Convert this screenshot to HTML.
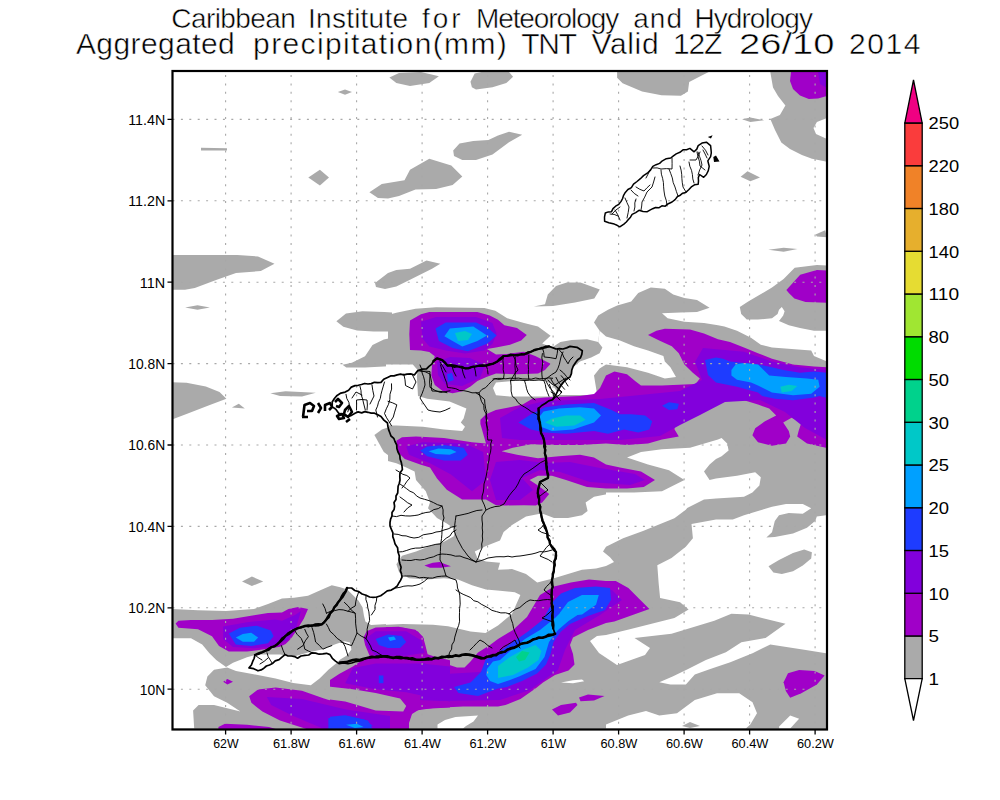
<!DOCTYPE html><html><head><meta charset="utf-8"><style>html,body{margin:0;padding:0;background:#fff;}svg{display:block;}text{font-family:"Liberation Sans",sans-serif;fill:#000;}</style></head><body>
<svg width="1000" height="800" viewBox="0 0 1000 800">
<rect width="1000" height="800" fill="#fff"/>
<g shape-rendering="auto">
<polygon fill="#aaaaaa" points="337.8,92.0 345.0,89.5 352.0,92.0 345.0,94.7"/>
<polygon fill="#aaaaaa" points="201.0,147.8 227.0,148.2 227.0,150.6 201.0,150.4"/>
<polygon fill="#aaaaaa" points="308.3,177.5 319.9,169.8 329.0,177.5 319.9,185.4"/>
<polygon fill="#aaaaaa" points="369.4,192.3 381.8,184.0 404.5,180.2 410.0,169.8 429.3,158.8 451.3,165.6 462.3,176.6 452.6,184.9 436.1,189.0 415.5,189.6 399.0,195.9 388.0,198.6 378.0,198.0"/>
<polygon fill="#aaaaaa" points="172.0,255.0 237.4,255.0 258.0,256.4 274.5,263.8 260.8,271.0 236.0,273.0 216.8,279.8 194.8,288.0 185.0,289.8 172.0,289.8"/>
<polygon fill="#aaaaaa" points="375.0,283.0 388.0,272.9 396.3,270.1 410.0,268.8 426.5,260.5 440.3,263.8 432.0,268.8 410.0,279.8 396.3,286.6 385.0,289.0 376.0,287.0"/>
<polygon fill="#aaaaaa" points="389.4,77.6 399.0,73.0 421.0,72.0 438.9,76.3 429.3,83.1 410.0,85.9 396.3,83.1"/>
<polygon fill="#aaaaaa" points="470.5,81.8 474.6,73.5 481.5,72.0 509.0,72.0 513.1,76.8 506.3,83.1 492.5,87.3 476.0,89.5 471.9,87.3"/>
<polygon fill="#aaaaaa" points="453.2,150.5 459.5,143.6 473.3,140.9 488.4,140.0 498.0,135.4 509.0,131.8 522.2,134.8 509.0,142.3 492.5,154.6 476.0,160.1 462.3,160.1 454.0,156.0"/>
<polygon fill="#aaaaaa" points="533.8,306.6 545.0,304.2 547.8,294.4 556.0,286.0 566.8,282.5 580.5,282.5 599.8,289.5 594.3,298.4 575.0,302.5 553.0,306.0"/>
<polygon fill="#aaaaaa" points="617.1,72.0 708.7,72.0 700.3,76.3 689.2,81.9 687.9,91.6 680.9,95.7 661.5,95.2 642.1,91.6 622.6,83.3 617.1,77.7"/>
<polygon fill="#aaaaaa" points="770.3,72.0 827.0,72.0 827.0,118.0 816.9,122.1 813.5,128.0 816.0,134.0 827.0,139.0 827.0,161.8 812.0,158.8 801.9,154.9 790.0,149.0 781.3,142.5 775.0,130.0 770.3,119.1 779.9,115.0 785.4,105.4 778.0,96.0 773.0,87.5"/>
<polygon fill="#aaaaaa" points="742.0,119.3 750.3,117.4 764.2,120.2 750.3,122.1"/>
<polygon fill="#aaaaaa" points="740.6,176.8 747.5,171.2 760.0,177.6 750.3,181.2"/>
<polygon fill="#aaaaaa" points="815.5,234.5 825.2,230.3 827.0,237.3 816.9,236.4"/>
<polygon fill="#aaaaaa" points="768.3,249.7 783.6,247.8 797.5,248.9 783.6,251.7"/>
<polygon fill="#aaaaaa" points="739.8,307.0 748.2,301.4 758.0,295.8 772.0,287.4 783.6,278.9 794.7,267.8 816.9,265.0 827.0,265.6 827.0,330.8 814.0,330.8 800.0,328.0 788.8,325.2 779.0,321.0 783.2,315.4 784.6,311.2 781.8,307.0 779.0,309.8 777.6,314.0 772.0,318.2 758.0,319.6 746.8,319.6 741.2,314.0"/>
<polygon fill="#aaaaaa" points="185.1,307.5 197.5,305.3 209.9,307.5 197.5,309.7"/>
<polygon fill="#aaaaaa" points="172.0,382.3 186.5,382.8 205.8,386.4 219.5,391.9 226.4,398.8 208.5,405.6 186.5,413.9 172.0,419.4"/>
<polygon fill="#aaaaaa" points="231.9,407.6 238.8,403.7 244.8,408.4"/>
<polygon fill="#aaaaaa" points="270.4,393.3 285.5,391.3 315.8,392.7 302.0,396.6 280.0,396.0"/>
<polygon fill="#aaaaaa" points="336.4,321.2 346.0,313.5 362.5,311.3 384.5,312.1 392.0,312.5 392.0,331.4 373.5,331.4 357.0,330.6 343.3,326.7"/>
<polygon fill="#aaaaaa" points="342.5,364.7 351.9,362.8 365.0,356.3 372.5,345.0 383.8,339.4 393.1,337.5 402.5,330.0 420.0,330.0 420.0,363.8 402.5,365.6 383.8,366.6 365.0,367.5 346.3,367.5"/>
<polygon fill="#aaaaaa" points="374.4,435.0 381.9,429.4 392.0,426.0 392.0,458.0 383.8,451.9"/>
<polygon fill="#aaaaaa" points="388.0,314.9 396.3,312.8 415.5,308.7 436.1,307.3 484.3,308.0 495.3,310.8 507.2,318.2 524.0,323.1 538.0,326.6 550.6,335.7 542.2,343.4 552.0,347.6 560.4,342.0 571.6,339.9 587.0,339.2 598.2,342.0 599.6,330.8 594.0,322.4 598.2,315.4 608.0,309.8 617.2,305.6 631.2,301.4 638.2,293.0 650.8,287.4 664.8,288.8 673.2,294.4 684.4,297.9 697.0,300.0 709.6,307.7 697.0,311.9 680.2,312.6 662.0,313.3 667.6,318.2 684.4,321.7 704.0,323.1 718.0,325.2 724.4,326.6 737.0,330.8 751.0,337.8 760.8,344.8 772.0,347.6 791.6,349.0 811.2,350.4 814.0,356.0 827.0,361.6 827.0,729.0 388.0,729.0"/>
<polygon fill="#aaaaaa" points="172.0,608.9 198.0,610.3 226.0,611.0 254.0,608.9 268.0,604.0 282.0,598.4 294.0,597.8 308.0,595.7 319.2,590.8 331.8,585.2 340.2,587.3 347.2,589.4 358.4,600.6 362.6,607.6 364.0,616.0 365.4,621.6 371.0,625.1 392.0,623.7 392.0,729.0 172.0,729.0"/>
<polygon fill="#ffffff" points="599.6,330.8 606.0,336.4 620.0,340.6 634.0,346.2 648.0,350.4 663.4,356.0 664.8,361.6 670.4,367.2 676.0,377.0 664.8,378.4 648.0,372.8 627.0,367.2 606.0,364.4 599.6,368.6 594.0,375.6 596.8,392.4 596.0,395.0 554.8,395.0 557.6,392.4 563.2,384.0 570.2,375.6 573.0,367.2 580.0,361.6 591.2,357.4 599.6,353.2 602.4,347.6 598.2,342.0"/>
<polygon fill="#ffffff" points="493.0,388.0 496.0,382.6 510.0,381.2 542.2,379.8 552.0,384.0 557.6,392.4 554.8,396.6 510.0,396.6 496.0,395.2"/>
<polygon fill="#ffffff" points="386.0,364.4 412.8,364.4 417.6,369.9 416.9,376.8 418.0,396.0 427.2,398.8 449.6,401.6 466.4,408.6 463.6,418.4 460.8,422.6 465.0,426.8 462.2,431.0 444.0,429.6 423.0,426.8 396.4,425.4 386.0,425.4"/>
<polygon fill="#ffffff" points="386.0,460.4 396.4,463.2 406.2,467.4 414.6,471.6 416.0,480.0 425.8,491.2 430.0,502.4 428.0,508.2 437.0,518.0 446.8,523.6 455.2,529.2 453.8,536.2 444.0,541.8 430.0,546.0 416.0,551.6 402.0,555.8 396.4,564.2 399.2,572.6 409.0,578.2 427.2,579.6 444.0,578.2 458.0,579.6 472.0,585.2 486.0,589.4 500.0,590.8 514.8,592.2 520.4,595.0 512.0,614.0 507.0,618.0 498.0,625.5 485.5,633.0 470.5,631.5 448.0,626.2 433.0,624.7 403.0,624.0 386.0,624.7"/>
<polygon fill="#ffffff" points="474.8,551.6 486.0,546.0 500.0,540.4 503.6,532.0 512.0,525.0 526.0,516.6 540.0,513.8 542.8,513.8 554.0,518.0 568.0,518.0 582.0,515.2 587.6,511.0 585.6,502.4 594.0,496.8 608.0,494.0 610.0,508.0 687.2,508.0 685.8,509.7 674.4,518.2 643.0,531.1 623.1,538.2 606.0,546.7 603.0,551.6 610.0,557.2 614.0,562.0 606.0,566.0 596.0,568.4 582.0,569.8 554.0,578.2 537.2,582.4 526.0,574.0 512.0,569.1 498.0,569.8 500.0,562.8 486.0,561.4 477.6,558.6"/>
<polygon fill="#ffffff" points="627.0,457.6 641.0,452.0 662.0,449.2 690.0,447.8 718.0,439.4 721.6,438.0 727.2,443.6 728.6,450.6 721.6,456.2 716.0,459.0 709.6,464.6 704.0,471.6 709.6,480.0 716.0,478.6 737.0,475.8 755.2,472.3 760.8,477.2 759.4,485.6 752.4,492.6 744.0,496.8 716.0,498.4 704.0,499.6 687.2,508.0 606.0,508.0 606.0,492.6 634.0,492.6 662.0,491.2 684.4,480.0 669.0,470.2 648.0,464.6"/>
<polygon fill="#ffffff" points="691.5,524.0 716.0,519.4 732.8,519.4 744.0,515.2 758.0,511.0 772.0,506.8 786.0,504.0 802.8,504.0 811.2,508.2 802.8,513.8 788.8,513.1 779.0,515.2 774.8,521.0 772.0,532.2 766.4,537.6 774.8,537.0 793.0,533.4 807.0,527.8 815.4,520.8 816.8,516.6 826.0,515.2 826.0,653.3 805.8,650.0 770.3,644.4 752.5,653.3 730.3,662.2 710.3,668.9 694.8,674.4 685.9,684.4 670.4,684.4 659.3,682.2 672.6,676.6 688.1,668.9 705.9,660.0 725.9,652.2 741.4,642.2 765.6,637.9 785.5,623.7 748.5,614.6 731.4,613.7 714.3,620.8 671.5,633.7 634.5,637.9 650.0,648.0 645.0,655.0 617.0,665.0 599.0,653.0 590.0,641.0 597.0,636.0 606.0,635.1 628.8,629.4 651.6,623.7 674.4,618.0 688.6,609.4 680.1,602.3 660.1,598.0 658.7,583.8 657.3,565.3 671.5,558.1 685.8,546.7 692.9,538.2"/>
<polygon fill="#ffffff" points="606.0,724.4 628.2,715.5 646.0,711.0 659.3,715.5 677.0,713.3 694.8,700.0 717.0,693.3 739.2,693.3 752.5,702.2 757.0,713.3 750.3,724.4 745.8,728.5 606.0,728.5"/>
<polygon fill="#ffffff" points="779.1,726.6 790.2,715.5 799.1,718.8 790.2,728.5 779.1,728.5"/>
<polygon fill="#ffffff" points="437.5,724.5 445.0,720.0 455.5,717.0 478.0,715.5 473.5,721.5 466.0,726.0 463.0,728.5 437.5,728.5"/>
<polygon fill="#ffffff" points="561.0,682.5 573.0,680.2 582.0,679.5 584.2,681.3 573.0,683.2"/>
<polygon fill="#ffffff" points="172.0,638.3 191.0,638.3 202.2,644.6 209.2,653.0 216.2,660.0 226.0,667.0 233.0,662.8 247.0,657.2 256.8,654.4 280.0,654.4 294.0,656.6 308.0,652.4 322.0,649.6 336.0,644.0 344.4,641.2 350.0,642.6 351.4,649.6 347.2,655.2 340.2,659.4 336.0,663.6 328.4,669.8 319.6,678.6 310.8,685.2 293.2,683.0 275.6,678.6 253.6,674.2 236.0,670.9 227.2,667.6 214.0,669.8 207.4,676.4 205.2,685.2 214.0,696.2 227.2,702.8 240.4,711.6 214.0,705.0 198.6,705.0 193.1,710.5 194.2,728.5 172.0,728.5"/>
<polygon fill="#aaaaaa" points="682.0,726.0 690.0,722.0 700.0,726.0 690.0,728.0"/>
<polygon fill="#aaaaaa" points="768.5,566.3 779.0,560.0 793.0,553.0 804.2,549.5 811.9,552.3 811.2,558.6 802.8,565.6 793.0,571.2 781.8,574.0 773.4,572.6"/>
<polygon fill="#a000c8" points="791.0,72.0 827.0,72.0 827.0,96.0 818.0,98.5 808.8,99.0 800.0,95.5 793.0,89.0 790.0,81.0"/>
<polygon fill="#a000c8" points="786.4,290.0 800.2,274.7 816.9,270.0 827.0,270.6 827.0,302.8 805.6,302.1 794.4,298.6 788.8,293.0"/>
<polygon fill="#a000c8" points="410.0,320.4 421.0,314.2 429.3,312.1 477.4,312.1 489.8,315.6 498.0,319.7 504.4,325.2 517.0,328.0 526.8,335.0 521.2,340.6 510.0,344.8 496.0,347.6 487.0,349.0 496.0,354.6 507.2,353.9 524.0,351.8 535.2,356.0 550.6,363.7 545.0,370.0 538.0,373.5 517.0,374.2 496.0,373.5 487.0,376.8 477.4,380.9 470.5,386.4 462.3,391.2 452.6,393.3 443.0,391.2 434.8,385.0 431.3,375.4 432.0,365.8 434.8,356.2 429.3,352.0 421.0,350.6 410.0,350.0 409.3,334.1"/>
<polygon fill="#a000c8" points="396.4,440.8 402.0,437.3 416.0,436.6 444.0,438.0 472.0,442.2 486.0,443.6 480.4,424.0 480.4,419.8 486.0,414.2 495.8,410.0 510.0,407.2 522.6,404.4 532.4,398.8 545.0,397.4 580.0,396.0 594.0,394.0 600.0,388.0 606.0,375.6 614.4,371.4 627.0,374.2 635.4,381.2 641.0,385.4 662.0,385.4 695.6,384.0 699.8,378.4 692.8,372.8 684.4,364.4 678.8,353.2 671.8,346.2 659.2,340.6 648.0,335.0 656.4,330.8 664.8,328.7 690.0,329.4 704.0,333.6 718.0,339.2 730.0,342.0 744.0,347.6 758.0,353.2 772.0,358.8 793.0,364.4 814.0,366.5 827.0,367.2 827.0,448.0 807.0,443.6 797.2,436.6 798.6,431.0 801.4,422.6 791.6,417.7 783.2,422.6 788.8,431.0 790.2,436.6 786.0,443.6 772.0,445.7 758.0,442.2 752.4,435.2 755.2,428.2 765.0,421.2 776.2,415.6 769.2,408.6 758.0,404.4 744.0,400.2 716.0,401.6 704.0,410.0 690.0,417.0 674.6,421.2 674.6,429.6 678.8,436.6 662.0,439.4 648.0,443.6 627.0,445.0 606.0,443.6 580.0,445.0 552.0,445.0 531.0,444.3 512.8,447.8 501.6,451.3 517.0,454.8 538.0,458.3 559.0,456.2 580.0,454.8 594.0,457.6 606.0,464.6 620.0,467.4 641.0,471.6 655.0,480.0 643.8,487.0 627.0,488.4 606.0,488.4 587.0,487.0 566.0,480.0 552.0,475.8 538.0,475.8 529.6,480.0 538.0,485.6 549.2,494.0 542.2,502.4 535.8,505.4 524.0,505.2 506.4,505.4 496.0,505.2 486.0,499.6 462.2,499.6 446.8,489.8 437.0,478.6 430.0,467.4 420.2,464.6 404.8,459.0 397.8,452.0"/>
<polygon fill="#a000c8" points="424.4,565.6 432.8,562.8 439.8,562.1 445.4,564.2 451.0,566.3 441.2,567.7 430.0,567.7"/>
<polygon fill="#a000c8" points="386.0,627.0 403.0,627.7 418.0,631.5 424.0,639.0 424.0,652.5 430.0,657.0 442.0,660.0 448.0,664.5 457.0,667.5 464.5,667.5 470.5,661.5 478.0,652.5 490.0,645.0 498.0,639.0 513.0,630.0 527.0,617.0 540.0,595.0 554.0,586.6 570.8,582.4 589.0,579.6 606.0,581.0 615.8,581.0 628.4,588.0 639.6,599.2 649.4,609.0 634.0,614.6 614.4,621.6 606.0,623.0 588.0,630.0 573.0,637.5 570.0,645.0 573.0,654.0 574.5,664.5 568.5,670.5 555.0,675.0 543.0,682.5 535.5,688.5 520.5,699.0 505.5,705.0 498.0,706.5 463.0,706.5 433.0,708.0 418.0,710.2 412.0,714.0 409.0,723.0 409.0,729.0 386.0,729.0"/>
<polygon fill="#a000c8" points="390.0,729.0 306.4,729.0 280.0,720.4 262.4,711.6 251.4,702.8 249.2,696.2 258.0,689.6 275.6,687.4 302.0,690.7 324.0,698.4 346.0,705.0 368.0,711.6 390.0,713.8"/>
<polygon fill="#a000c8" points="363.5,637.4 366.6,631.3 375.7,627.5 398.6,626.8 415.4,629.8 423.0,636.7 425.3,645.1 427.6,654.2 436.7,657.3 450.0,660.3 450.0,707.6 421.5,709.1 412.3,712.1 409.3,719.8 407.7,729.0 330.0,729.0 330.0,700.0 330.0,686.2 330.0,680.1 339.1,674.0 352.9,666.4 362.0,660.3 369.6,655.7 365.1,645.1"/>
<polygon fill="#aaaaaa" points="326.0,686.2 352.9,689.3 375.7,693.1 400.1,698.4 406.2,706.0 403.2,711.4 375.7,710.6 360.5,706.0 345.2,701.5 326.0,699.0"/>
<polygon fill="#aaaaaa" points="242.0,581.4 251.9,576.6 263.2,581.4 251.9,586.0"/>
<polygon fill="#a000c8" points="175.6,623.6 178.4,620.8 191.0,620.1 212.0,620.1 233.0,618.7 254.0,615.2 268.0,613.1 282.0,612.4 288.4,609.0 298.2,606.9 308.0,609.0 303.8,618.8 296.8,630.0 291.2,638.4 285.6,644.0 280.0,646.8 268.0,648.8 247.0,651.6 228.8,651.6 219.0,646.0 212.0,636.2 198.0,629.2 178.4,627.8"/>
<polygon fill="#a000c8" points="223.2,681.7 227.4,678.9 233.0,681.7 227.4,684.5"/>
<polygon fill="#a000c8" points="218.4,727.0 225.0,723.7 247.0,724.8 269.0,727.0 275.6,729.0 218.4,729.0"/>
<polygon fill="#a000c8" points="552.0,709.5 561.0,705.0 576.0,702.7 577.5,705.0 570.0,712.5 558.0,715.5"/>
<polygon fill="#a000c8" points="579.0,697.5 588.0,694.5 604.5,696.0 594.0,700.5 580.5,701.2"/>
<polygon fill="#a000c8" points="783.6,682.2 788.0,673.3 799.1,670.0 814.7,671.1 824.6,675.5 816.9,684.4 801.3,693.3 790.2,697.7 785.8,691.1"/>
<polygon fill="#8200dc" points="818.0,72.0 827.0,72.0 827.0,88.0 820.0,84.0"/>
<polygon fill="#8200dc" points="421.0,321.8 436.1,317.0 476.0,317.0 492.5,323.1 496.7,334.1 492.5,343.8 484.3,350.6 465.0,353.4 445.8,350.6 429.3,346.5 422.4,338.3"/>
<polygon fill="#8200dc" points="437.0,362.0 450.0,357.0 470.0,358.0 485.0,365.0 480.0,378.0 462.0,386.0 445.0,384.0 438.0,375.0"/>
<polygon fill="#8200dc" points="406.2,446.4 423.0,442.2 465.0,443.6 483.2,452.0 486.0,480.0 472.0,491.2 451.0,474.4 430.0,463.2 409.0,454.8"/>
<polygon fill="#8200dc" points="500.0,418.0 520.0,407.0 545.0,401.0 600.0,399.0 640.0,395.0 680.0,391.0 702.0,380.0 695.0,362.0 703.0,348.0 744.0,351.8 772.0,361.6 800.0,367.2 827.0,370.0 827.0,440.0 805.0,428.0 785.0,412.0 760.0,400.0 725.0,402.0 700.0,415.0 680.0,425.0 660.0,436.0 620.0,440.0 580.0,440.0 545.0,440.0 520.0,440.0 502.0,438.0"/>
<polygon fill="#8200dc" points="496.0,462.0 520.0,460.0 545.0,463.0 570.0,462.0 600.0,468.0 635.0,474.0 645.0,480.0 630.0,485.0 590.0,482.0 560.0,472.0 540.0,470.0 522.0,478.0 533.0,490.0 520.0,500.0 496.0,500.0 490.0,480.0"/>
<polygon fill="#8200dc" points="424.0,663.0 445.0,674.0 480.0,672.0 520.0,650.0 545.0,625.0 560.0,600.0 590.0,587.0 612.0,590.0 622.0,600.0 600.0,615.0 575.0,630.0 565.0,650.0 558.0,670.0 530.0,690.0 500.0,700.0 440.0,701.0 420.0,700.0"/>
<polygon fill="#8200dc" points="223.2,626.4 247.0,622.2 275.0,619.4 282.0,620.8 295.0,615.0 301.0,611.0 296.0,628.0 288.0,640.0 268.0,647.0 254.0,648.2 233.0,647.0 223.2,639.0"/>
<polygon fill="#8200dc" points="266.8,697.0 302.0,699.0 346.0,709.4 390.0,716.0 390.0,729.0 324.0,729.0 293.2,716.0 271.2,705.0"/>
<polygon fill="#8200dc" points="365.0,639.0 375.7,631.3 406.2,631.3 421.5,640.5 424.5,652.7 406.2,655.7 375.7,655.7 368.1,648.1"/>
<polygon fill="#8200dc" points="352.9,667.9 375.7,663.4 421.5,663.4 450.0,666.4 450.0,701.5 421.5,695.4 406.2,692.3 375.7,689.3 345.2,683.2"/>
<polygon fill="#1e3cff" points="435.5,328.6 445.8,322.5 476.0,322.5 487.0,327.3 496.7,335.5 487.0,343.8 467.8,351.3 452.6,347.9 438.9,341.0"/>
<polygon fill="#1e3cff" points="447.0,374.0 452.0,373.0 454.0,380.0 448.0,382.0"/>
<polygon fill="#1e3cff" points="420.2,450.6 427.2,446.4 444.0,445.0 463.6,447.8 467.8,454.8 460.8,460.4 444.0,460.4 427.2,456.2"/>
<polygon fill="#1e3cff" points="518.4,422.6 531.0,414.2 545.0,407.2 566.0,404.4 594.0,403.0 611.6,410.0 620.0,414.2 631.2,414.2 645.2,415.6 652.2,421.2 649.4,429.6 638.2,432.4 624.2,429.6 608.0,433.8 594.0,431.0 566.0,433.8 545.0,432.4 531.0,429.6"/>
<polygon fill="#1e3cff" points="705.0,360.0 716.0,357.4 723.0,358.8 730.0,361.6 758.0,364.4 772.0,367.2 783.2,370.0 800.0,372.8 814.0,371.4 827.0,372.8 827.0,398.0 819.6,396.0 814.0,397.4 793.0,400.2 774.8,398.8 762.2,396.0 758.0,392.4 737.0,386.8 716.0,382.6 708.0,375.0"/>
<polygon fill="#1e3cff" points="662.0,405.8 669.0,402.3 678.8,403.7 677.4,409.3 669.0,410.0"/>
<polygon fill="#1e3cff" points="228.8,633.4 240.0,627.8 256.8,625.7 270.8,630.6 273.6,636.2 268.0,643.2 251.2,646.0 235.8,644.6"/>
<polygon fill="#1e3cff" points="454.0,687.0 470.5,682.5 481.0,672.0 485.5,660.0 498.0,652.5 513.0,642.0 528.0,631.5 543.0,619.5 552.6,602.0 561.0,593.6 575.0,588.0 596.0,586.6 610.0,588.0 611.0,600.0 605.0,610.0 588.0,616.0 570.0,624.0 561.0,631.5 553.5,642.0 550.5,654.0 546.0,664.5 537.0,673.5 522.0,681.0 507.0,687.0 498.0,688.5 478.0,696.0 458.5,693.0"/>
<polygon fill="#1e3cff" points="328.4,718.2 346.0,716.0 368.0,720.4 372.4,729.0 328.4,729.0"/>
<polygon fill="#1e3cff" points="375.7,639.0 387.9,634.4 401.6,635.9 406.2,642.0 400.1,648.1 387.9,648.1 378.8,645.1"/>
<polygon fill="#1e3cff" points="378.8,675.5 383.4,675.5 383.4,683.2 378.8,683.2"/>
<polygon fill="#1e3cff" points="330.0,716.7 345.2,715.2 365.1,719.8 372.7,725.9 360.5,729.0 330.0,729.0"/>
<polygon fill="#00a0ff" points="444.4,336.2 449.9,328.6 473.3,326.6 487.0,335.5 477.4,341.0 462.3,346.5 452.6,341.0"/>
<polygon fill="#00a0ff" points="428.6,451.3 438.4,448.5 451.0,449.2 456.6,452.0 449.6,454.8 435.6,454.1"/>
<polygon fill="#00a0ff" points="538.0,418.4 543.6,411.4 559.0,408.6 580.0,407.2 594.0,408.6 601.0,415.6 594.0,422.6 573.0,429.6 552.0,431.0 540.8,426.8"/>
<polygon fill="#00a0ff" points="731.4,370.0 735.6,364.4 744.0,363.0 758.0,364.4 763.6,370.0 769.2,375.6 786.0,377.0 807.0,378.4 818.2,379.8 819.6,386.8 811.2,393.8 793.0,395.2 772.0,392.4 758.0,385.4 751.0,382.6 737.0,379.8 731.4,375.6"/>
<polygon fill="#00a0ff" points="235.8,637.6 242.8,634.1 251.2,632.7 258.2,637.6 254.0,641.8 242.8,641.8"/>
<polygon fill="#00a0ff" points="486.2,675.0 487.0,669.0 493.0,661.5 500.0,660.0 510.0,651.0 525.0,639.0 540.0,630.0 555.0,618.0 561.0,612.0 582.0,612.0 568.5,621.0 558.0,630.0 549.0,642.0 544.5,657.0 535.5,669.0 519.0,676.5 507.0,681.0 498.0,684.0 490.0,681.0"/>
<polygon fill="#00a0ff" points="559.6,613.2 568.0,602.0 582.0,595.0 598.8,595.0 596.0,604.8 582.0,614.6 568.0,616.0"/>
<polygon fill="#00a0ff" points="346.0,724.8 357.0,723.7 363.6,727.0 354.8,728.1"/>
<polygon fill="#00a0ff" points="388.0,637.5 394.0,636.5 396.0,639.5 390.0,641.0"/>
<polygon fill="#00c8c8" points="455.0,333.0 465.0,331.0 472.0,334.0 468.0,340.0 458.0,341.0"/>
<polygon fill="#00c8c8" points="545.0,422.6 552.0,418.4 566.0,415.6 580.0,415.6 585.6,419.8 574.4,425.4 556.2,426.8"/>
<polygon fill="#00c8c8" points="780.4,386.8 788.8,384.7 797.2,386.1 791.6,391.0 781.8,392.4"/>
<polygon fill="#00c8c8" points="498.0,666.0 510.0,657.0 523.5,649.5 535.5,645.0 541.5,651.0 538.5,660.0 528.0,667.5 513.0,675.0 498.0,678.0"/>
<polygon fill="#00d28c" points="516.0,657.0 522.0,651.0 529.5,652.5 525.0,660.0 519.0,661.5"/>
</g>
<path d="M225.6 75V729.5M291.1 75V729.5M356.6 75V729.5M422.1 75V729.5M487.6 75V729.5M553.1 75V729.5M618.6 75V729.5M684.1 75V729.5M749.6 75V729.5M815.1 75V729.5M172.5 119.4H827M172.5 200.8H827M172.5 282.2H827M172.5 363.6H827M172.5 445.0H827M172.5 526.4H827M172.5 607.8H827M172.5 689.2H827" stroke="#a8a8a8" stroke-width="1.1" stroke-dasharray="2 6.4" fill="none"/>
<g fill="none" stroke="#000" stroke-linejoin="round" stroke-linecap="round">
<polygon points="332.2,402.0 334.4,398.5 337.1,395.4 340.9,393.1 345.2,392.1 348.6,390.2 351.3,387.1 355.0,385.6 358.3,385.3 361.5,384.5 364.6,383.5 368.0,384.0 371.3,383.6 374.4,382.3 377.7,382.7 381.0,382.4 383.7,379.3 387.5,377.5 390.6,375.9 394.0,375.9 397.2,374.9 400.5,374.2 403.8,374.9 407.0,374.2 410.7,373.9 414.3,375.0 417.8,370.6 422.0,369.2 426.5,368.9 429.0,366.4 431.8,364.2 433.5,361.0 437.0,358.4 442.3,360.1 444.8,363.0 447.5,365.6 451.0,365.7 454.4,367.1 458.0,366.5 461.7,366.5 465.0,368.3 468.6,368.4 471.9,366.7 475.5,366.5 478.9,365.5 482.4,365.1 486.0,365.6 489.4,364.1 493.2,363.9 496.5,362.1 499.6,358.6 503.5,356.0 507.0,355.9 510.5,355.7 514.0,355.1 517.5,354.6 521.0,354.7 524.5,354.3 527.7,352.1 531.5,351.6 534.7,349.5 538.5,349.0 541.9,347.6 545.6,347.6 549.0,346.4 552.6,347.6 556.0,349.0 559.5,348.6 563.0,349.0 566.6,347.9 570.0,346.4 573.5,346.8 577.0,347.3 582.3,350.8 581.8,354.4 580.5,357.8 577.5,360.0 575.3,363.0 573.2,366.3 571.8,370.0 571.4,373.6 570.0,377.0 564.8,380.5 562.0,383.9 559.5,387.5 557.7,391.0 556.0,394.5 552.5,399.8 548.7,400.9 545.5,403.3 541.7,405.5 538.5,408.5 538.9,412.0 538.5,415.5 538.0,419.1 540.3,422.4 540.2,426.0 540.0,429.6 541.0,433.0 543.1,436.2 544.0,440.0 544.4,443.3 545.6,446.6 544.7,450.0 544.8,453.4 545.5,456.7 546.0,460.0 545.7,463.7 547.2,467.2 546.8,470.8 547.4,474.4 548.0,478.0 543.9,479.9 540.0,482.0 539.1,486.0 538.0,490.0 537.7,493.4 537.8,496.8 539.1,500.0 539.0,503.4 540.5,506.6 540.0,510.0 540.6,513.6 541.7,517.1 542.1,520.8 544.0,524.0 544.4,527.5 546.4,530.5 547.2,533.9 547.7,537.4 549.9,540.4 550.0,544.0 552.1,546.6 554.5,548.9 556.0,552.0 556.4,555.3 556.1,558.5 554.3,561.5 555.1,564.9 554.0,568.0 553.8,572.1 552.9,576.0 552.0,580.0 551.3,583.3 552.8,586.7 552.1,590.0 551.9,593.3 551.2,596.7 552.0,600.0 551.5,603.6 551.6,607.1 552.9,610.6 552.8,614.2 553.0,617.7 552.1,621.3 552.1,624.9 553.2,628.4 555.0,633.8 552.0,635.3 548.8,636.1 545.6,636.8 542.5,637.6 539.2,638.0 536.0,638.8 532.8,639.7 529.9,641.3 527.0,642.9 523.6,643.1 520.4,644.0 517.4,645.8 514.1,647.0 510.6,647.9 507.7,649.9 504.8,651.8 501.3,652.9 497.8,653.7 494.3,654.7 491.2,657.0 487.2,656.5 484.0,658.3 480.5,657.0 476.9,656.0 473.2,655.4 469.4,655.4 465.8,654.4 462.4,655.0 459.0,656.1 455.4,655.4 452.0,657.0 448.6,657.4 445.0,657.0 441.7,658.0 438.4,658.4 435.0,658.4 431.7,659.4 428.4,659.9 425.0,659.9 421.6,659.6 418.1,660.1 414.7,659.3 411.3,659.7 408.0,657.7 404.5,657.9 401.0,658.6 397.6,658.1 394.2,657.6 390.8,657.3 387.4,657.4 384.0,656.4 380.3,656.1 376.7,656.1 373.2,657.5 369.6,657.9 366.0,658.2 362.6,660.1 359.0,661.1 355.3,661.7 351.7,663.0 348.0,663.6 343.5,662.9 339.0,663.6 335.5,661.1 332.3,658.3 330.0,654.6 326.5,653.3 322.8,653.8 319.1,654.2 315.6,653.1 312.0,652.8 308.7,655.0 304.8,655.4 300.9,656.0 297.6,658.2 294.6,656.6 291.4,656.0 288.0,656.0 285.0,654.6 282.0,657.1 279.1,659.6 275.2,660.9 272.4,663.6 269.5,665.0 266.4,666.0 263.9,668.2 261.1,669.9 258.0,670.8 253.7,668.7 249.0,667.8 251.4,665.0 252.6,661.7 254.1,658.5 255.0,655.0 258.9,654.1 262.5,652.4 266.0,650.5 269.4,648.0 273.4,646.5 277.0,644.5 279.6,641.5 281.9,638.2 285.4,636.0 287.7,633.2 290.7,631.6 293.8,630.0 297.4,628.2 301.4,627.7 305.0,626.0 308.4,626.6 311.7,625.3 315.2,625.9 318.5,625.7 321.8,624.4 326.0,620.0 329.1,617.3 330.4,613.4 333.0,610.4 334.9,606.6 337.2,603.2 340.0,600.0 341.2,596.7 343.0,593.7 345.5,591.1 347.0,588.0 351.6,588.0 354.8,590.5 358.8,591.6 362.1,594.0 366.0,595.2 369.6,597.0 373.2,597.3 376.8,597.0 380.7,595.7 384.0,593.4 387.2,590.9 391.3,590.1 394.8,588.0 397.3,585.8 398.9,582.9 400.6,580.2 402.0,577.2 401.5,573.9 400.4,570.7 401.1,567.2 400.0,564.0 399.0,560.1 399.3,555.9 398.0,552.0 397.6,547.7 395.1,544.1 394.0,540.0 392.8,536.6 392.9,532.8 391.4,529.4 390.0,526.0 390.0,522.5 390.6,519.2 392.0,516.0 392.0,512.5 394.1,509.5 394.6,506.1 394.0,502.5 396.0,499.5 396.0,496.0 397.7,493.0 397.9,489.7 398.1,486.3 399.3,483.2 400.0,480.0 399.8,476.4 400.0,472.9 402.4,469.6 402.0,466.0 401.3,462.4 400.1,459.0 399.8,455.3 398.0,452.0 396.9,448.5 396.7,444.8 395.0,441.5 393.8,438.3 391.0,436.0 389.8,432.8 388.6,429.6 387.9,426.4 387.5,423.0 383.9,420.1 381.0,416.5 377.8,414.7 374.5,413.2 371.2,413.1 368.0,412.3 364.8,411.6 361.7,412.9 358.1,411.9 355.0,413.2 351.9,415.1 348.5,416.5 345.2,415.5 342.0,414.1 338.7,413.2 336.0,409.4 332.2,406.7" stroke-width="1.7"/>
<polyline points="360.0,386.4 361.0,390.5 361.2,394.8 362.6,398.9 363.5,403.0 365.3,410.0" stroke-width="0.95"/>
<polyline points="384.5,382.0 383.3,386.1 382.1,390.2 381.0,394.3 380.3,398.4 378.5,402.2 377.5,406.2 375.8,410.0 377.5,417.0" stroke-width="0.95"/>
<polyline points="391.5,383.8 391.6,389.1 390.0,394.2 389.8,399.5 388.5,404.3 386.3,408.8 384.5,413.5 386.6,417.8 389.1,421.7 391.5,425.8" stroke-width="0.95"/>
<polyline points="388.0,401.3 392.5,402.8 396.8,404.8 395.6,408.9 394.4,412.9 393.3,417.0 389.8,422.3" stroke-width="0.95"/>
<polyline points="346.0,394.3 346.8,398.5 348.9,402.3 349.5,406.5 347.8,411.8" stroke-width="0.95"/>
<polyline points="356.5,410.0 356.6,405.0 356.5,400.0 362.0,399.5 367.0,400.0 367.4,405.0 367.0,410.0" stroke-width="0.95"/>
<polyline points="403.8,374.1 405.0,379.8 405.5,385.5 412.5,389.0 416.0,382.0 412.5,375.0" stroke-width="0.95"/>
<polyline points="417.8,370.6 421.8,371.3 425.9,371.2 430.0,371.5 429.9,376.8 429.6,382.0 430.0,387.3 435.0,390.4 440.5,392.5 445.2,391.6 450.0,390.8" stroke-width="0.95"/>
<polyline points="352.0,398.0 356.0,392.0 362.0,395.0" stroke-width="0.95"/>
<polyline points="372.0,385.0 372.8,390.5 374.0,396.0 372.0,400.0 370.0,404.0" stroke-width="0.95"/>
<polyline points="515.2,357.0 515.2,361.4 514.9,365.8 515.3,370.2 515.2,374.6 515.2,379.0" stroke-width="0.95"/>
<polyline points="528.8,355.3 528.8,360.0 528.2,364.8 528.5,369.5 528.3,374.3 528.8,379.0" stroke-width="0.95"/>
<polyline points="542.4,353.6 541.8,357.8 542.7,362.1 542.3,366.3 541.8,370.5 541.9,374.8 542.4,379.0" stroke-width="0.95"/>
<polyline points="493.0,379.0 497.3,378.4 501.5,378.4 505.8,378.8 510.0,378.2 514.3,378.4 518.5,378.1 522.8,378.9 527.1,379.0 531.3,379.1 535.6,378.0 539.8,378.8 544.1,378.6 548.3,377.9 552.6,378.3" stroke-width="0.95"/>
<polyline points="545.9,380.8 548.0,384.9 550.4,388.8 553.8,392.1 556.0,396.1" stroke-width="0.95"/>
<polyline points="551.0,379.1 553.0,382.9 556.2,385.8 558.7,389.3 561.2,392.7" stroke-width="0.95"/>
<polyline points="556.0,377.4 558.3,381.8 561.4,385.6 564.6,389.3" stroke-width="0.95"/>
<polyline points="561.2,375.7 563.9,378.9 565.8,382.5 568.0,386.0" stroke-width="0.95"/>
<polyline points="549.3,384.2 551.0,388.7 552.9,393.2 554.4,397.8" stroke-width="0.95"/>
<polyline points="542.4,347.7 543.7,352.3 544.2,357.0 550.1,357.6 556.0,358.7 557.2,353.7 557.8,348.5" stroke-width="0.95"/>
<polyline points="559.5,350.2 562.2,353.2 563.7,357.0 565.9,360.4 568.0,363.8 570.0,360.0 573.0,357.0" stroke-width="0.95"/>
<polyline points="476.0,392.7 480.4,395.9 484.6,399.5 484.9,403.9 485.6,408.2 486.7,412.5 485.9,417.0 486.6,421.3 486.9,425.7 488.0,430.0" stroke-width="0.95"/>
<polyline points="420.0,370.6 425.2,371.8 430.0,374.0 430.8,378.2 431.6,382.4 431.1,386.8 432.0,391.0 437.0,391.2 442.1,391.6 447.0,392.7" stroke-width="0.95"/>
<polyline points="440.0,362.0 443.1,366.9 446.0,372.0" stroke-width="0.95"/>
<polyline points="452.0,366.0 453.5,371.2 456.0,376.0" stroke-width="0.95"/>
<polyline points="462.0,368.0 463.1,373.1 465.0,378.0" stroke-width="0.95"/>
<polyline points="474.0,366.0 475.3,370.9 476.0,376.0" stroke-width="0.95"/>
<polyline points="486.0,365.0 487.5,369.4 488.0,374.0" stroke-width="0.95"/>
<polyline points="503.5,356.0 502.9,360.6 503.4,365.1 503.2,369.7 504.1,374.2 503.5,378.8 499.1,379.4 494.8,378.8 491.5,381.4 488.5,384.5 485.7,387.6 481.8,389.5 479.0,392.8 480.2,397.1 481.4,401.3 483.8,405.2 484.1,409.8 486.0,413.8 486.9,418.1 486.1,422.6 487.0,426.9 487.4,431.3 487.4,435.6 487.8,440.0 492.0,440.0 490.7,443.9 491.0,448.1 490.5,452.1 489.3,456.0 489.0,460.1 488.0,464.0 487.7,468.1 486.9,472.1 486.2,476.1 485.2,480.1 484.0,484.0 483.8,488.0 483.3,492.0 482.1,496.0 482.0,500.0 484.3,504.9 486.0,510.0 482.0,516.0 482.0,520.0 482.5,524.0 482.2,528.0 482.7,532.0 482.3,536.0 482.7,540.0 481.7,544.0 482.0,548.0 479.9,552.6 478.4,557.5 476.0,562.0" stroke-width="0.95"/>
<polyline points="510.5,380.5 511.1,385.8 511.1,391.1 512.3,396.3 515.6,398.8 517.8,402.4 521.0,405.0 524.5,407.0 528.0,409.2 531.3,411.7 535.1,413.3 538.5,415.5" stroke-width="0.95"/>
<polyline points="524.5,380.5 525.7,384.6 526.6,388.8 528.0,392.8 531.0,396.8 535.0,399.8" stroke-width="0.95"/>
<polyline points="543.8,380.5 545.3,384.4 546.0,388.5 547.4,392.4 549.0,396.3" stroke-width="0.95"/>
<polyline points="440.5,364.8 441.7,369.4 443.4,373.8 444.9,378.4 446.7,382.8 447.5,387.5 451.7,387.9 455.8,388.7 459.7,390.5 463.9,390.7 468.0,391.5 472.0,392.8 479.0,392.8" stroke-width="0.95"/>
<polyline points="513.0,355.0 515.2,359.8 515.9,365.2 518.0,370.0 515.1,373.2 512.8,376.9 510.5,380.5 515.2,380.2 519.8,380.1 524.5,380.5 529.3,380.2 534.1,380.4 539.0,380.0 543.8,380.5 547.8,377.6 551.7,374.6 556.0,372.0 558.0,368.2 559.4,364.2 560.3,360.0 561.3,355.9 563.0,352.0" stroke-width="0.95"/>
<polyline points="548.0,380.0 551.1,383.5 555.2,385.8 558.6,388.8 562.0,392.0 559.1,395.2 555.4,397.5 552.0,400.0" stroke-width="0.95"/>
<polyline points="555.0,385.0 558.6,382.6 562.3,380.3 566.0,378.0" stroke-width="0.95"/>
<polyline points="560.0,370.0 563.6,373.0 566.7,376.7 570.0,380.0" stroke-width="0.95"/>
<polyline points="551.0,392.0 554.5,394.1 557.2,397.1 560.0,400.0" stroke-width="0.95"/>
<polyline points="420.0,365.0 421.6,368.9 422.1,373.0 423.6,376.8 424.6,380.8 425.0,385.0 423.6,389.4 422.0,393.8 420.0,398.0 422.6,402.1 425.3,406.0 428.0,410.0 431.9,411.0 436.0,411.6 440.0,412.0 445.1,410.3 450.0,408.0" stroke-width="0.95"/>
<polyline points="546.0,460.0 540.7,462.5 536.0,466.0 532.1,468.8 528.1,471.5 524.0,474.0 520.4,478.7 518.0,484.0 515.4,488.3 512.0,492.0 509.1,495.8 506.5,499.9 504.0,504.0 499.7,506.1 494.9,506.6 490.3,508.0 486.0,510.0" stroke-width="0.95"/>
<polyline points="456.0,516.0 460.0,515.2 464.1,514.3 468.1,513.4 472.0,512.0 476.9,510.5 482.0,510.0" stroke-width="0.95"/>
<polyline points="456.0,516.0 455.3,520.7 454.7,525.3 454.0,530.0 455.6,534.9 457.6,539.5 460.0,544.0 462.3,548.3 465.2,552.1 468.0,556.0 471.7,559.4 476.0,562.0 480.1,560.9 484.1,559.6 488.0,558.0 492.0,557.4 496.0,556.8 500.0,556.7 504.0,556.8 508.0,556.2 512.0,557.0 516.0,556.3 520.0,556.0 524.0,555.4 528.0,554.7 532.0,554.0 536.0,553.0 539.9,551.6 544.1,551.9 548.1,551.1 552.0,550.0" stroke-width="0.95"/>
<polyline points="400.0,484.0 403.3,486.3 406.6,488.7 409.9,491.2 413.7,492.8 416.5,495.9 420.0,498.0 424.5,499.3 429.0,500.6 433.3,502.5 437.5,504.7 442.0,506.0 443.1,509.9 443.0,514.1 444.0,518.0 442.7,521.9 442.7,526.0 442.0,530.0 441.9,534.3 441.5,538.6 440.9,542.8 440.5,547.1 440.4,551.4 440.1,555.7 440.0,560.0 442.1,563.8 443.5,567.8 444.8,571.9 446.0,576.0 450.9,578.3 456.0,580.0 457.1,583.9 457.5,588.0 459.1,591.9 459.8,595.9 460.0,600.0 460.2,604.2 459.6,608.5 459.5,612.7 459.4,617.0 459.6,621.2 458.7,625.3 457.2,629.1 456.0,633.1 454.8,637.1 454.1,641.2 451.9,644.9 451.6,649.2 449.4,652.8 448.8,657.0" stroke-width="0.95"/>
<polyline points="392.0,516.0 396.5,516.6 401.0,515.3 405.5,515.9 410.0,516.0 414.1,515.6 418.1,515.0 422.0,513.5 425.9,512.5 430.0,512.0 433.8,509.6 438.3,508.6 442.0,506.0" stroke-width="0.95"/>
<polyline points="394.0,534.0 398.1,534.4 402.0,535.7 406.1,535.9 410.0,537.2 414.0,538.0 418.8,537.3 423.2,534.8 428.0,534.0 432.1,533.4 436.0,532.0 440.1,531.5 444.0,530.0 448.1,528.9 451.9,527.0 456.0,526.0" stroke-width="0.95"/>
<polyline points="398.0,552.0 402.5,551.7 406.8,550.4 411.1,548.9 415.5,548.1 420.0,548.0 424.0,547.2 428.0,546.3 431.9,545.3 435.9,544.3 440.0,544.0 443.1,541.0 446.2,538.2 449.9,536.0 452.3,532.3 456.0,530.0" stroke-width="0.95"/>
<polyline points="402.0,560.0 406.5,560.4 411.0,560.5 415.5,559.5 420.0,560.0 424.6,559.4 428.9,557.9 433.3,556.9 437.5,554.9 442.0,554.0 446.5,554.3 451.0,554.9 455.4,556.2 460.0,556.0 464.0,557.6 468.1,558.8 472.0,560.4 476.0,562.0" stroke-width="0.95"/>
<polyline points="402.0,576.0 406.4,576.0 410.7,576.0 415.0,576.4 419.3,577.8 423.7,577.4 428.0,578.0 432.6,578.1 437.0,576.7 441.5,576.2 446.0,576.0" stroke-width="0.95"/>
<polyline points="396.0,588.0 400.0,587.3 403.9,586.2 408.0,585.8 412.1,586.0 416.1,585.2 420.0,584.0 424.3,581.3 428.0,578.0" stroke-width="0.95"/>
<polyline points="400.0,497.0 403.9,499.8 407.7,502.8 412.0,505.0 407.6,508.0 404.0,512.0" stroke-width="0.95"/>
<polyline points="396.0,470.0 399.5,472.1 402.8,474.3 406.8,475.5 410.0,478.0 407.1,481.1 404.7,484.7 402.0,488.0" stroke-width="0.95"/>
<polyline points="456.0,590.0 459.4,592.3 463.1,594.3 466.9,595.9 470.7,597.6 473.7,600.7 477.9,601.8 481.2,604.2 484.9,606.1 488.5,608.1 492.0,610.4 496.4,611.6 500.9,612.9 505.6,612.8 510.0,614.0 511.0,618.9 512.7,623.5 513.6,628.4 515.1,632.3 516.9,636.1 518.8,639.9 520.0,644.0" stroke-width="0.95"/>
<polyline points="509.0,614.0 512.2,611.3 515.8,609.0 519.8,607.5 523.0,604.7 526.3,602.0 530.0,600.0 534.4,600.6 538.8,600.7 543.2,599.9 547.6,599.5 552.0,600.0" stroke-width="0.95"/>
<polyline points="322.8,604.0 325.0,608.4 326.4,613.2" stroke-width="0.95"/>
<polyline points="326.4,613.2 330.4,611.4 334.7,610.6 339.0,609.6 343.2,609.9 347.2,611.0 351.2,612.0 355.2,613.2 355.6,618.2 355.6,623.1 356.2,628.1 357.0,633.0 355.3,637.2 353.5,641.4 351.6,645.6 346.2,643.8 340.8,642.0" stroke-width="0.95"/>
<polyline points="326.4,624.0 328.4,627.5 330.0,631.2 333.8,634.6 337.2,638.4 342.6,642.0 345.0,646.4 346.5,651.2 348.0,656.0" stroke-width="0.95"/>
<polyline points="294.0,629.4 297.1,634.3 301.2,638.4 303.5,643.6 304.8,649.2 308.4,651.0 312.0,652.8" stroke-width="0.95"/>
<polyline points="304.8,629.4 306.4,633.1 308.4,636.6 305.3,640.8 303.0,645.6 297.6,649.2" stroke-width="0.95"/>
<polyline points="312.0,627.6 313.6,632.3 314.7,637.1 315.6,642.0 319.4,645.4 322.8,649.2 327.2,647.3 331.8,645.6" stroke-width="0.95"/>
<polyline points="344.4,602.4 348.1,605.9 351.2,610.0 355.2,613.2" stroke-width="0.95"/>
<polyline points="357.0,633.0 361.2,636.1 366.0,638.4 367.4,634.0 367.1,629.3 368.1,624.8 369.6,620.4 369.3,616.2 368.9,611.9 367.8,607.8 367.3,603.6 365.9,599.5 366.0,595.2" stroke-width="0.95"/>
<polyline points="376.8,597.0 376.4,601.2 375.0,605.3 375.0,609.6 371.4,615.0" stroke-width="0.95"/>
<polyline points="358.8,591.6 357.2,596.3 355.9,601.1 355.2,606.0 351.2,608.2 348.0,611.4" stroke-width="0.95"/>
<polyline points="366.0,638.4 368.3,642.1 370.5,645.9 372.0,650.0 376.2,651.7 380.0,654.3 384.0,656.4" stroke-width="0.95"/>
<polyline points="254.4,654.6 258.1,657.5 262.0,660.0" stroke-width="0.95"/>
<polyline points="267.0,652.8 268.2,656.7 270.3,660.1 272.4,663.6" stroke-width="0.95"/>
<polyline points="281.4,645.6 283.0,650.2 285.0,654.6" stroke-width="0.95"/>
<polyline points="260.0,664.0 264.2,661.3 268.0,658.0" stroke-width="0.95"/>
<polyline points="540.0,482.0 544.0,486.0 548.0,490.0 544.0,492.9 540.0,496.0" stroke-width="0.95"/>
<polyline points="544.0,524.0 541.5,527.5 538.0,530.0 541.8,532.4 546.2,533.7 550.0,536.0" stroke-width="0.95"/>
<polyline points="550.0,544.0 546.2,547.6 543.2,551.9 540.0,556.0 544.1,557.8 548.2,559.5 552.0,562.0" stroke-width="0.95"/>
<polyline points="552.0,580.0 549.6,583.6 546.5,586.5 544.0,590.0 547.8,593.2 552.0,596.0" stroke-width="0.95"/>
<polyline points="552.0,610.0 549.0,613.1 545.7,615.8 542.0,618.0 547.5,620.0 553.0,622.0" stroke-width="0.95"/>
<polyline points="470.0,650.0 473.4,646.7 476.6,643.2 480.0,640.0 484.2,642.3 487.9,645.5 492.0,648.0" stroke-width="0.95"/>
<polyline points="500.0,650.0 503.4,646.9 507.3,644.8 511.2,642.5 515.0,640.0 517.0,644.3 520.0,648.0" stroke-width="0.95"/>
<polyline points="340.0,662.6 343.3,662.3 346.6,662.1 349.7,660.9 352.9,660.0 356.2,659.5 359.6,660.0 362.8,659.1 366.0,658.2 369.0,657.6 371.9,656.8 375.0,657.3 378.0,657.3 381.0,656.6 384.0,656.4 387.2,656.3 390.2,657.2 393.3,657.9 396.6,657.0 399.7,657.0 402.8,657.7 405.9,658.1 409.0,658.8 412.2,658.3 415.3,659.5 418.4,659.7 421.6,659.6 424.9,659.2 428.2,658.4 431.7,659.2 434.9,657.8 438.4,658.3 441.6,656.9 445.0,657.0 448.4,656.1 452.0,656.5 455.4,655.4 459.0,656.0 462.3,654.8 465.8,654.4 468.9,654.6 472.0,655.3 474.9,656.2 477.9,657.3 480.8,658.4 484.0,658.3 486.8,656.8 489.9,656.3 492.8,655.1 496.1,655.3 498.7,653.1 501.6,652.0 504.8,651.8 507.6,649.6 511.0,648.5 514.4,647.7 517.6,646.1 520.4,644.0 523.6,643.3 526.9,642.7 530.0,641.5 532.8,639.6 536.0,638.8 539.0,637.5 542.5,637.8 545.6,636.7 548.5,634.7 551.9,634.9 555.0,633.8" stroke-width="2.6"/>
<polyline points="538.5,408.5 538.6,412.0 538.5,415.5 539.1,419.0 539.7,422.5 540.4,425.9 541.1,429.4 541.0,433.0 542.7,436.4 544.0,440.0 544.5,443.3 544.1,446.7 545.4,450.0 544.8,453.4 546.0,456.6 546.0,460.0 546.5,463.0 546.3,466.0 546.6,469.0 547.4,472.0 548.2,474.9 548.0,478.0 544.0,480.0 540.0,482.0 539.1,486.0 538.0,490.0 537.8,493.4 539.0,496.6 539.2,500.0 538.9,503.4 540.2,506.6 540.0,510.0 541.1,513.5 541.6,517.1 542.7,520.6 544.0,524.0 545.5,527.2 546.5,530.5 547.5,533.8 547.5,537.5 549.3,540.6 550.0,544.0 551.8,546.8 553.6,549.6 556.0,552.0 555.8,555.2 555.5,558.4 554.3,561.5 554.3,564.8 554.0,568.0 553.8,571.0 552.7,574.0 552.7,577.0 552.0,580.0 552.3,583.3 552.6,586.7 551.7,590.0 551.5,593.3 551.8,596.7 552.0,600.0 551.6,603.2 552.8,606.3 552.7,609.5 552.6,612.6 552.1,615.8 552.3,619.0 553.1,622.1 553.4,625.2 553.2,628.4" stroke-width="2.3"/>
<polyline points="255.0,655.0 258.6,653.4 262.3,652.0 266.0,650.5 269.0,649.5 271.3,647.1 274.5,646.4 277.0,644.5 280.0,641.9 282.9,639.2 285.4,636.0 288.4,634.3 291.1,632.1 293.8,630.0 297.5,628.4 301.2,627.1 305.0,626.0 308.3,625.5 311.8,625.8 315.0,624.5 318.4,624.3 321.8,624.4 324.2,622.4 326.0,620.0 328.0,616.6 330.2,613.2 333.0,610.4 334.2,607.4 336.6,605.2 338.0,602.5 340.0,600.0 342.3,597.3 344.0,594.3 345.8,591.3 347.0,588.0" stroke-width="2.4"/>
<polyline points="433.5,361.0 437.0,358.4 442.3,360.1 445.2,362.6 447.5,365.6 451.1,365.2 454.6,365.5 458.0,366.5 461.5,367.4 465.0,368.3 468.6,368.1 472.0,367.0 475.5,366.5 479.0,365.7 482.5,365.8 486.0,365.6 489.6,364.6 493.1,363.6 496.5,362.1 499.1,360.4 501.6,358.5 503.5,356.0 507.0,356.0 510.4,354.7 514.0,355.1 517.5,355.4 521.0,354.2 524.5,354.3 528.0,353.1 531.5,351.6 534.9,350.1 538.5,349.0 542.1,348.5 545.4,346.7 549.0,346.4" stroke-width="2.2"/>
<polygon points="604.6,221.3 604.5,217.1 605.3,213.0 608.3,211.9 611.5,211.7 613.0,208.6 615.6,206.2 618.8,204.3 621.1,201.4 622.6,198.5 623.6,195.3 625.3,192.4 627.9,189.5 631.4,187.6 633.5,184.2 637.0,181.5 640.4,178.7 643.5,175.6 647.3,173.2 650.5,170.1 652.8,166.3 656.1,164.7 659.6,163.4 662.4,160.8 666.3,158.7 670.7,158.0 673.4,155.9 676.2,153.9 679.9,152.3 683.0,149.8 686.6,149.7 689.9,148.4 694.1,151.8 696.8,149.1 698.2,145.6 702.0,143.1 706.4,142.2 710.6,145.6 711.0,149.3 711.3,152.9 710.6,156.6 707.8,160.8 709.2,166.3 708.3,170.6 706.4,174.5 703.7,177.3 699.6,174.5 698.3,177.6 698.5,180.9 698.2,184.2 694.5,184.8 691.3,186.9 688.7,189.8 685.8,192.4 682.7,193.2 680.3,195.2 677.5,196.5 675.1,199.6 672.0,202.0 668.3,203.7 665.2,206.2 661.9,205.8 658.8,207.8 655.5,207.5 652.7,208.7 649.9,210.1 647.3,211.7 643.1,211.5 639.0,210.3 635.7,212.6 632.1,214.4 630.5,217.2 628.4,219.6 626.3,222.0 623.9,224.1 619.8,226.8 617.1,225.3 614.3,224.1 608.8,222.7" stroke-width="1.5"/>
<polyline points="661.0,170.0 661.4,174.2 662.6,178.3 663.4,182.5 663.6,186.8 664.0,191.0 664.8,196.0 666.4,200.9 667.0,206.0" stroke-width="0.9"/>
<polyline points="669.0,169.0 670.7,173.4 672.3,177.9 673.2,182.6 675.0,187.0 676.4,191.5 678.0,196.0" stroke-width="0.9"/>
<polyline points="680.0,166.0 681.1,170.1 681.7,174.3 681.9,178.6 682.3,182.8 683.0,187.0 686.0,192.0" stroke-width="0.9"/>
<polyline points="689.0,162.0 689.8,166.2 691.5,170.3 692.4,174.5 692.8,178.9 694.0,183.0" stroke-width="0.9"/>
<polyline points="655.0,177.0 653.6,182.0 652.0,187.0 647.0,192.0 644.7,197.1 642.0,202.0 641.7,206.0 641.0,210.0" stroke-width="0.9"/>
<polyline points="636.0,199.0 634.8,202.9 634.9,207.0 634.0,211.0" stroke-width="0.9"/>
<polyline points="625.0,198.0 626.9,202.5 629.0,207.0 628.2,212.5 627.0,218.0" stroke-width="0.9"/>
<polyline points="672.0,158.0 672.1,163.5 672.0,169.0 666.5,168.6 661.0,169.0 657.1,167.9 653.0,168.0" stroke-width="0.9"/>
<polyline points="698.0,152.0 699.5,156.3 701.0,160.6 702.0,165.0 699.7,169.9 698.0,175.0" stroke-width="0.9"/>
<polyline points="615.0,210.0 617.8,214.8 620.0,220.0" stroke-width="0.9"/>
<polyline points="610.0,214.0 614.1,214.4 618.0,216.0" stroke-width="0.9"/>
<polyline points="631.0,190.0 634.2,193.4 638.0,196.0" stroke-width="0.9"/>
<polyline points="703.0,150.0 705.1,154.0 707.0,158.0" stroke-width="0.9"/>
<polyline points="636.0,187.0 639.8,189.3 644.0,191.0 646.9,187.9 650.0,185.0" stroke-width="0.9"/>
<polyline points="620.0,207.0 615.7,210.2 612.0,214.0" stroke-width="0.9"/>
<polyline points="697.0,152.0 698.0,156.7 699.4,161.2 700.0,166.0 705.0,170.0" stroke-width="0.9"/>
<polyline points="702.0,146.0 705.5,150.2 708.0,155.0" stroke-width="0.9"/>
<polyline points="646.0,178.0 648.1,174.0 650.0,170.0" stroke-width="0.9"/>
<polyline points="690.0,160.0 696.0,160.0 698.2,156.1 700.0,152.0" stroke-width="0.9"/>
</g>
<g fill="none" stroke="#000" stroke-width="2.6" stroke-linejoin="round">
<path d="M303,417 L304.5,405 L310,403 L314,406 L312,411 L307,411 M302,417 L308,417 M318,403 L321,408 L318,413 M325,411 L325,405 L330,403 L332,407 L329,410 M335,402 L338,399 L342,403 L339,407 L336,406 M337,416 L342,414 L344,418 L339,419 Z M345,410 L349,406 L352,412 L348,417 L344,414 Z M350,419 L346,422"/>
</g>
<path d="M707.8,137 L712.6,135.3 L711,138.5 Z M713.3,157 L716,155.5 L719.5,161.5 L714,162 Z" fill="#000"/>
<rect x="172.5" y="71" width="654.5" height="658.5" fill="none" stroke="#000" stroke-width="2.2"/>
<path d="M225.6 729.5V734.5M291.1 729.5V734.5M356.6 729.5V734.5M422.1 729.5V734.5M487.6 729.5V734.5M553.1 729.5V734.5M618.6 729.5V734.5M684.1 729.5V734.5M749.6 729.5V734.5M815.1 729.5V734.5M172.5 119.4H167.5M172.5 200.8H167.5M172.5 282.2H167.5M172.5 363.6H167.5M172.5 445.0H167.5M172.5 526.4H167.5M172.5 607.8H167.5M172.5 689.2H167.5" stroke="#000" stroke-width="1.3" fill="none"/>
<text x="171.3" y="27.6" font-size="28" textLength="124.5" lengthAdjust="spacing" stroke="#fff" stroke-width="0.5">Caribbean</text>
<text x="308.1" y="27.6" font-size="28" textLength="99.9" lengthAdjust="spacing" stroke="#fff" stroke-width="0.5">Institute</text>
<text x="422.0" y="27.6" font-size="28" textLength="38.7" lengthAdjust="spacing" stroke="#fff" stroke-width="0.5">for</text>
<text x="475.9" y="27.6" font-size="28" textLength="143.3" lengthAdjust="spacing" stroke="#fff" stroke-width="0.5">Meteorology</text>
<text x="633.2" y="27.6" font-size="28" textLength="48.9" lengthAdjust="spacing" stroke="#fff" stroke-width="0.5">and</text>
<text x="694.4" y="27.6" font-size="28" textLength="118.6" lengthAdjust="spacing" stroke="#fff" stroke-width="0.5">Hydrology</text>
<text x="75.9" y="54.4" font-size="30" textLength="158.9" lengthAdjust="spacing" stroke="#fff" stroke-width="0.5">Aggregated</text>
<text x="253.1" y="54.4" font-size="30" textLength="253.7" lengthAdjust="spacing" stroke="#fff" stroke-width="0.5">precipitation(mm)</text>
<text x="521.2" y="54.4" font-size="30" textLength="56.0" lengthAdjust="spacing" stroke="#fff" stroke-width="0.5">TNT</text>
<text x="591.6" y="54.4" font-size="30" textLength="67.0" lengthAdjust="spacing" stroke="#fff" stroke-width="0.5">Valid</text>
<text x="673.0" y="54.4" font-size="30" textLength="49.4" lengthAdjust="spacing" stroke="#fff" stroke-width="0.5">12Z</text>
<text x="739.0" y="54.4" font-size="30" textLength="95.6" lengthAdjust="spacingAndGlyphs" stroke="#fff" stroke-width="0.5">26/10</text>
<text x="849.0" y="54.4" font-size="30" textLength="71.4" lengthAdjust="spacing" stroke="#fff" stroke-width="0.5">2014</text>
<text x="213.2" y="747.8" font-size="13" textLength="25.4" lengthAdjust="spacingAndGlyphs" >62W</text>
<text x="272.9" y="747.8" font-size="13" textLength="37.0" lengthAdjust="spacingAndGlyphs" >61.8W</text>
<text x="338.4" y="747.8" font-size="13" textLength="37.0" lengthAdjust="spacingAndGlyphs" >61.6W</text>
<text x="403.9" y="747.8" font-size="13" textLength="37.0" lengthAdjust="spacingAndGlyphs" >61.4W</text>
<text x="469.4" y="747.8" font-size="13" textLength="37.0" lengthAdjust="spacingAndGlyphs" >61.2W</text>
<text x="540.7" y="747.8" font-size="13" textLength="25.4" lengthAdjust="spacingAndGlyphs" >61W</text>
<text x="600.4" y="747.8" font-size="13" textLength="37.0" lengthAdjust="spacingAndGlyphs" >60.8W</text>
<text x="665.9" y="747.8" font-size="13" textLength="37.0" lengthAdjust="spacingAndGlyphs" >60.6W</text>
<text x="731.4" y="747.8" font-size="13" textLength="37.0" lengthAdjust="spacingAndGlyphs" >60.4W</text>
<text x="796.9" y="747.8" font-size="13" textLength="37.0" lengthAdjust="spacingAndGlyphs" >60.2W</text>
<text x="128.2" y="124.7" font-size="14" textLength="37.0" lengthAdjust="spacingAndGlyphs" >11.4N</text>
<text x="128.2" y="206.1" font-size="14" textLength="37.0" lengthAdjust="spacingAndGlyphs" >11.2N</text>
<text x="139.8" y="287.5" font-size="14" textLength="25.4" lengthAdjust="spacingAndGlyphs" >11N</text>
<text x="128.2" y="368.9" font-size="14" textLength="37.0" lengthAdjust="spacingAndGlyphs" >10.8N</text>
<text x="128.2" y="450.3" font-size="14" textLength="37.0" lengthAdjust="spacingAndGlyphs" >10.6N</text>
<text x="128.2" y="531.7" font-size="14" textLength="37.0" lengthAdjust="spacingAndGlyphs" >10.4N</text>
<text x="128.2" y="613.1" font-size="14" textLength="37.0" lengthAdjust="spacingAndGlyphs" >10.2N</text>
<text x="139.8" y="694.5" font-size="14" textLength="25.4" lengthAdjust="spacingAndGlyphs" >10N</text>
<rect x="904.8" y="636.0" width="17.4" height="42.75" fill="#aaaaaa" stroke="#000" stroke-width="1.3"/>
<rect x="904.8" y="593.2" width="17.4" height="42.75" fill="#a000c8" stroke="#000" stroke-width="1.3"/>
<rect x="904.8" y="550.5" width="17.4" height="42.75" fill="#8200dc" stroke="#000" stroke-width="1.3"/>
<rect x="904.8" y="507.7" width="17.4" height="42.75" fill="#1e3cff" stroke="#000" stroke-width="1.3"/>
<rect x="904.8" y="465.0" width="17.4" height="42.75" fill="#00a0ff" stroke="#000" stroke-width="1.3"/>
<rect x="904.8" y="422.2" width="17.4" height="42.75" fill="#00c8c8" stroke="#000" stroke-width="1.3"/>
<rect x="904.8" y="379.5" width="17.4" height="42.75" fill="#00d28c" stroke="#000" stroke-width="1.3"/>
<rect x="904.8" y="336.7" width="17.4" height="42.75" fill="#00dc00" stroke="#000" stroke-width="1.3"/>
<rect x="904.8" y="294.0" width="17.4" height="42.75" fill="#a0e632" stroke="#000" stroke-width="1.3"/>
<rect x="904.8" y="251.2" width="17.4" height="42.75" fill="#e6dc32" stroke="#000" stroke-width="1.3"/>
<rect x="904.8" y="208.5" width="17.4" height="42.75" fill="#e6af2d" stroke="#000" stroke-width="1.3"/>
<rect x="904.8" y="165.7" width="17.4" height="42.75" fill="#f08228" stroke="#000" stroke-width="1.3"/>
<rect x="904.8" y="123.0" width="17.4" height="42.75" fill="#fa3c3c" stroke="#000" stroke-width="1.3"/>
<polygon points="904.8,678.7 922.2,678.7 913.5,720.5" fill="#fff" stroke="#000" stroke-width="1.3"/>
<polygon points="904.8,123.0 922.2,123.0 913.5,80" fill="#f00082" stroke="#000" stroke-width="1.3"/>
<text x="928.6" y="685.0" font-size="17" textLength="10.5" lengthAdjust="spacingAndGlyphs" >1</text>
<text x="928.6" y="642.2" font-size="17" textLength="10.5" lengthAdjust="spacingAndGlyphs" >5</text>
<text x="928.6" y="599.5" font-size="17" textLength="20.5" lengthAdjust="spacingAndGlyphs" >10</text>
<text x="928.6" y="556.8" font-size="17" textLength="20.5" lengthAdjust="spacingAndGlyphs" >15</text>
<text x="928.6" y="514.0" font-size="17" textLength="20.5" lengthAdjust="spacingAndGlyphs" >20</text>
<text x="928.6" y="471.3" font-size="17" textLength="20.5" lengthAdjust="spacingAndGlyphs" >25</text>
<text x="928.6" y="428.5" font-size="17" textLength="20.5" lengthAdjust="spacingAndGlyphs" >30</text>
<text x="928.6" y="385.8" font-size="17" textLength="20.5" lengthAdjust="spacingAndGlyphs" >50</text>
<text x="928.6" y="343.0" font-size="17" textLength="20.5" lengthAdjust="spacingAndGlyphs" >80</text>
<text x="928.6" y="300.3" font-size="17" textLength="30.5" lengthAdjust="spacingAndGlyphs" >110</text>
<text x="928.6" y="257.5" font-size="17" textLength="30.5" lengthAdjust="spacingAndGlyphs" >140</text>
<text x="928.6" y="214.8" font-size="17" textLength="30.5" lengthAdjust="spacingAndGlyphs" >180</text>
<text x="928.6" y="172.0" font-size="17" textLength="30.5" lengthAdjust="spacingAndGlyphs" >220</text>
<text x="928.6" y="129.3" font-size="17" textLength="30.5" lengthAdjust="spacingAndGlyphs" >250</text>
</svg></body></html>
